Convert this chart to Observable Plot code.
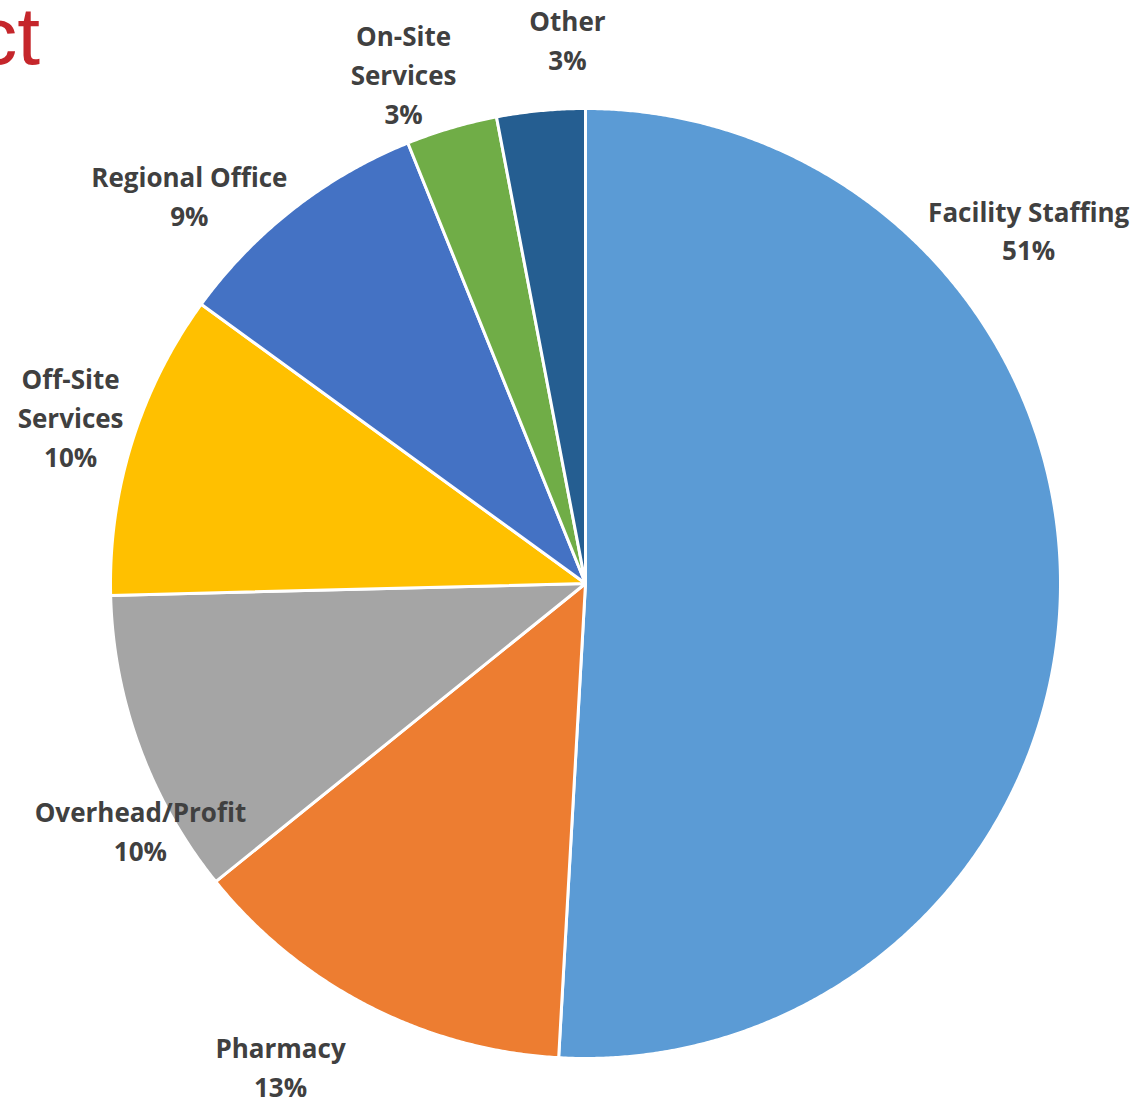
<!DOCTYPE html>
<html><head><meta charset="utf-8">
<script src="https://cdn.jsdelivr.net/npm/d3@7"></script>
<script src="https://cdn.jsdelivr.net/npm/@observablehq/plot@0.6"></script>
<style>
body{margin:0;background:#fff;overflow:hidden}
#wrap{position:relative;width:1148px;height:1101px}
#title{position:absolute;right:1108px;top:-5px;font-family:"Liberation Sans",Arial,sans-serif;font-size:82px;color:#C5262B;white-space:nowrap;line-height:1}
</style>
</head><body><div id="wrap"><div id="title">ct</div><div id="chart"></div></div>
<script>
// Data (clockwise from 12 o'clock)
const categories = ["Facility Staffing","Pharmacy","Overhead/Profit","Off-Site Services","Regional Office","On-Site Services","Other"];
const shares = [50.9, 13.3, 10.4, 10.4, 8.9, 3.1, 3.0];
const percentLabels = ["51%","13%","10%","10%","9%","3%","3%"];
const labelNames = ["Facility Staffing","Pharmacy","Overhead/Profit","Off-Site\nServices","Regional Office","On-Site\nServices","Other"];
const sliceColors = ["#5B9BD5","#ED7D31","#A5A5A5","#FFC000","#4472C4","#70AD47","#255E91"];
// label anchors in unit-radius coordinates (x right, y down)
const labelAnchors = [[0.933,-0.741],[-0.642,1.021],[-0.937,0.524],[-1.084,-0.347],[-0.834,-0.813],[-0.383,-1.069],[-0.038,-1.143]];

const arcs = d3.pie().sort(null).value(d => d)(shares);
const pt = a => [Math.sin(a), -Math.cos(a)];
const sectors = arcs.map((a, i) => {
  const n = Math.max(4, Math.ceil((a.endAngle - a.startAngle) / 0.005));
  const ring = [[0, 0]];
  for (let k = 0; k <= n; k++) ring.push(pt(a.startAngle + (a.endAngle - a.startAngle) * k / n));
  ring.push([0, 0]);
  return {type: "Feature", properties: {name: categories[i], color: sliceColors[i]}, geometry: {type: "Polygon", coordinates: [ring]}};
});
const circle = {type: "Polygon", coordinates: [d3.range(0, 361).map(d => pt(d * Math.PI / 180))]};
const labels = categories.map((c, i) => ({name: labelNames[i], pct: percentLabels[i], x: labelAnchors[i][0], y: labelAnchors[i][1]}));

const chart = Plot.plot({
  width: 1148,
  height: 1101,
  marginLeft: 110,
  marginRight: 88,
  marginTop: 108,
  marginBottom: 43,
  projection: {type: "identity", domain: circle, clip: false},
  style: {background: "transparent", overflow: "visible"},
  marks: [
    Plot.geo(sectors, {fill: d => d.properties.color, stroke: "white", strokeWidth: 3, strokeLinejoin: "round"}),
    Plot.text(labels, {
      x: "x", y: "y",
      text: d => d.name + "\n" + d.pct,
      fontSize: 26,
      fontWeight: "bold",
      fontFamily: "'Open Sans', sans-serif",
      fill: "#404040",
      lineHeight: 1.5,
      dy: -3
    })
  ]
});
document.getElementById("chart").appendChild(chart);
</script>
</body></html>
